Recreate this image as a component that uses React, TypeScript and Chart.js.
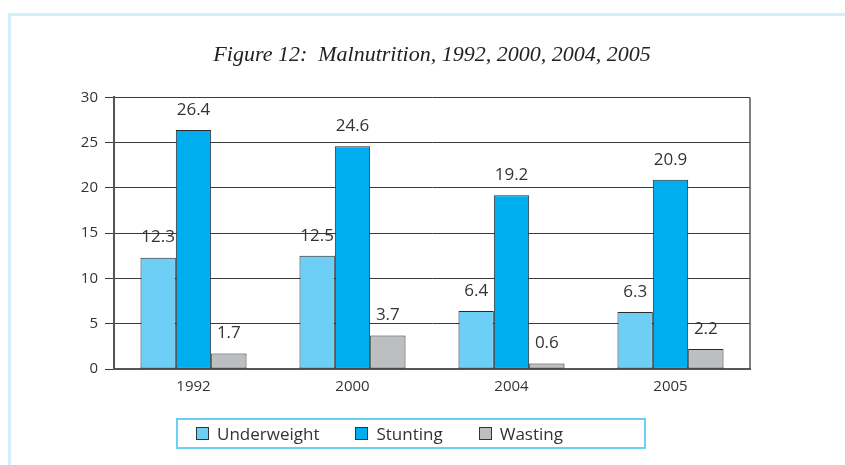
import React, { useEffect, useRef } from "react";
import { Chart, registerables } from "chart.js";

Chart.register(...registerables);

const titleText = "Figure 12:  Malnutrition, 1992, 2000, 2004, 2005";
const years = ["1992", "2000", "2004", "2005"];
const seriesNames = ["Underweight", "Stunting", "Wasting"];
const underweight = [12.3, 12.5, 6.4, 6.3];
const stunting = [26.4, 24.6, 19.2, 20.9];
const wasting = [1.7, 3.7, 0.6, 2.2];
const seriesColors = ["#6dcff6", "#00aeef", "#bcbec0"];
const yTicks = [0, 5, 10, 15, 20, 25, 30];

const FONT = "'Open Sans', 'Noto Sans', sans-serif";
const TEXT = "#333333";

const frameAndLabels = {
  id: "frameAndLabels",
  afterDatasetsDraw(chart: any) {
    const ctx = chart.ctx;
    const { left, right, top, bottom } = chart.chartArea;
    ctx.save();
    ctx.strokeStyle = "#555555";
    ctx.lineWidth = 1.5;
    ctx.beginPath();
    ctx.moveTo(right, top);
    ctx.lineTo(right, bottom);
    ctx.stroke();
    ctx.fillStyle = TEXT;
    ctx.font = `17px ${FONT}`;
    ctx.textAlign = "center";
    ctx.textBaseline = "middle";
    chart.data.datasets.forEach((ds: any, di: number) => {
      const meta = chart.getDatasetMeta(di);
      meta.data.forEach((el: any, i: number) => {
        ctx.fillText(String(ds.data[i]), el.x, el.y - 20);
      });
    });
    ctx.restore();
  },
};

export default function App() {
  const ref = useRef<HTMLCanvasElement>(null);

  useEffect(() => {
    if (!ref.current) return;
    const data = [underweight, stunting, wasting];
    const chart = new Chart(ref.current, {
      type: "bar",
      data: {
        labels: years,
        datasets: seriesNames.map((name, i) => ({
          label: name,
          data: data[i],
          backgroundColor: seriesColors[i],
          borderColor: "#2a2a2a",
          borderWidth: 1,
          borderSkipped: false,
          categoryPercentage: 0.667,
          barPercentage: 1.0,
        })),
      },
      options: {
        animation: false,
        responsive: false,
        devicePixelRatio: 1,
        layout: { padding: { left: 40, right: 95, top: 0, bottom: 66 } },
        plugins: {
          legend: { display: false },
          tooltip: { enabled: false },
          title: {
            display: true,
            text: titleText,
            fullSize: false,
            color: "#222222",
            font: { family: "'Liberation Serif', serif", size: 22, style: "italic", weight: "normal", lineHeight: 1.2 },
            padding: { top: 42, bottom: 29 },
          },
        },
        scales: {
          x: {
            grid: { display: false, drawTicks: false },
            border: { display: true, color: "#555555", width: 2 },
            ticks: { color: TEXT, font: { family: FONT, size: 15 }, padding: 9 },
            afterFit: (s: any) => { s.height = 30; },
          },
          y: {
            min: 0,
            max: 30,
            afterBuildTicks: (s: any) => { s.ticks = yTicks.map((v) => ({ value: v })); },
            grid: { color: "#3a3a3a", lineWidth: 1, tickLength: 9, drawTicks: true },
            border: { display: true, color: "#555555", width: 2 },
            ticks: { color: TEXT, font: { family: FONT, size: 15 }, padding: 7 },
            afterFit: (s: any) => { s.width = 74; },
          },
        },
      },
      plugins: [frameAndLabels],
    });
    return () => chart.destroy();
  }, []);

  return (
    <div style={{ position: "fixed", left: 0, top: 0, width: 845, height: 465, background: "#ffffff", overflow: "hidden" }}>
      <div style={{ position: "absolute", left: 8, top: 13, right: -10, bottom: -10, borderLeft: "3px solid #d3effb", borderTop: "3px solid #d3effb" }} />
      <canvas ref={ref} width={845} height={465} style={{ position: "absolute", left: 0, top: 0 }} />
      <div
        style={{
          position: "absolute",
          left: 176,
          top: 418,
          width: 448,
          height: 27,
          border: "2px solid #6dcff6",
          display: "flex",
          alignItems: "center",
          paddingLeft: 18,
          boxSizing: "content-box",
          fontFamily: FONT,
          fontSize: 17,
          color: TEXT,
        }}
      >
        {seriesNames.map((name, i) => (
          <div key={name} style={{ display: "flex", alignItems: "center", marginRight: 36 }}>
            <span style={{ display: "inline-block", width: 11, height: 11, background: seriesColors[i], border: "1px solid #333333", marginRight: 8 }} />
            <span style={{ lineHeight: "20px" }}>{name}</span>
          </div>
        ))}
      </div>
    </div>
  );
}
